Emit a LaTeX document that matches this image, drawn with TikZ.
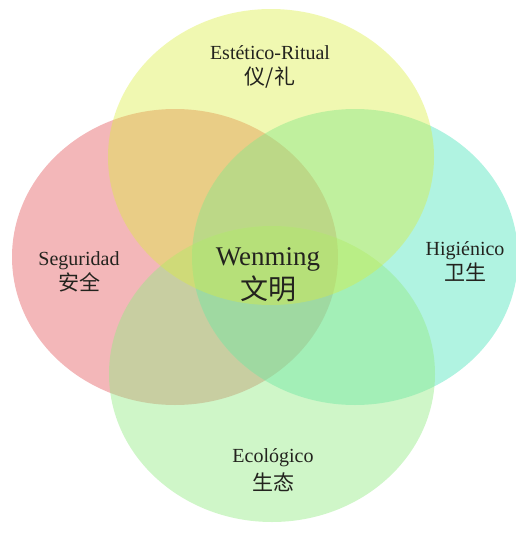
\documentclass[tikz,border=0pt]{standalone}
\usepackage{fontspec}
\setmainfont{Liberation Serif}
\newfontfamily\cjk{Noto Sans CJK SC}
\usetikzlibrary{shapes.geometric}

\definecolor{segcol}{RGB}{228,95,99}
\definecolor{higcol}{RGB}{79,228,188}
\definecolor{ecocol}{RGB}{148,235,133}
\definecolor{ritcol}{RGB}{218,238,60}
\definecolor{txtcol}{RGB}{35,35,30}

\begin{document}
\begin{tikzpicture}[x=1pt, y=-1pt,
    area/.style = {ellipse, draw=none, inner sep=0pt, minimum width=326pt, minimum height=296pt, fill opacity=0.45},
    lbl/.style = {align=center, text=txtcol, font=\fontsize{20}{25}\selectfont},
    big/.style = {align=center, text=txtcol, font=\fontsize{27}{34}\selectfont}]
    \useasboundingbox (0,0) rectangle (515,536);

    % the four domains
    \node[area, fill=segcol] (seg) at (175,257) {};
    \node[area, fill=higcol] (hig) at (355,257) {};
    \node[area, fill=ecocol] (eco) at (272,374) {};
    \node[area, fill=ritcol, fill opacity=0.4] (rit) at (271,157) {};

    % labels
    \node[lbl] (ritlbl) at (270,67) {Estético-Ritual\\{\cjk\fontsize{21}{25}\selectfont 仪/礼}};
    \node[lbl] (seglbl) at (79,272) {Seguridad\\{\cjk\fontsize{21}{25}\selectfont 安全}};
    \node[lbl] (higlbl) at (465,262) {Higiénico\\{\cjk\fontsize{21}{25}\selectfont 卫生}};
    \node[lbl] (ecolbl) at (273,470) {Ecológico\\[3pt]{\cjk\fontsize{21}{25}\selectfont 生态}};
    \node[big] (wenlbl) at (268,275) {Wenming\\{\cjk\fontsize{28}{34}\selectfont 文明}};
\end{tikzpicture}
\end{document}
